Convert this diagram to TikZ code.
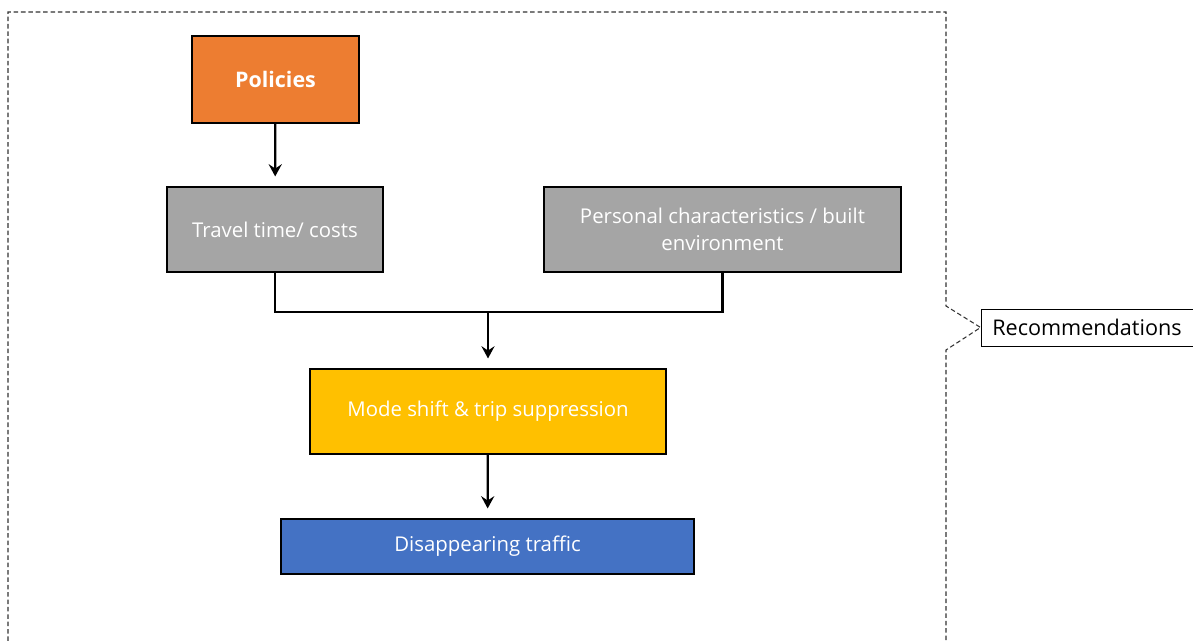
\documentclass[tikz,border=0pt]{standalone}
\usepackage{fontspec}
\setmainfont{Open Sans}
\usetikzlibrary{arrows.meta}
\definecolor{policyorange}{HTML}{ED7D31}
\definecolor{factorgray}{HTML}{A5A5A5}
\definecolor{shiftyellow}{HTML}{FFC000}
\definecolor{trafficblue}{HTML}{4472C4}
\begin{document}
\begin{tikzpicture}[x=0.02cm, y=-0.02cm,
    box/.style={draw=black, line width=1pt, text=white, align=center,
      font=\fontsize{11.6}{15.3}\selectfont},
    flow/.style={-{Stealth[length=7pt, width=7.5pt, inset=2.5pt]}, line width=1.3pt, shorten >=5.5pt}]
  \useasboundingbox (0,0) rectangle (1193,641);

  % Dashed frame with pointer to the label
  \node[draw=black, line width=0.5pt, minimum width=4.24cm, minimum height=0.74cm,
    font=\fontsize{12.3}{14}\selectfont] (recommendations) at (1087,327.5) {Recommendations};
  \draw[black!80, line width=0.6pt, dash pattern=on 2.6pt off 1.6pt]
    (8,641) -- (8,12) -- (946,12) -- (946,306) -- (recommendations.west)
    -- (946,350) -- (946,641);

  % Boxes
  \node[box, fill=policyorange, minimum width=3.34cm, minimum height=1.74cm,
    font=\fontsize{12.2}{15}\selectfont\bfseries] (policies) at (275.5,79.5) {Policies};
  \node[box, fill=factorgray, minimum width=4.32cm, minimum height=1.70cm] (travel) at (275,229.5) {Travel time/ costs};
  \node[box, fill=factorgray, minimum width=7.14cm, minimum height=1.70cm] (personal) at (722.5,229.5) {Personal characteristics / built\\environment};
  \node[box, fill=shiftyellow, minimum width=7.12cm, minimum height=1.70cm] (modeshift) at (488,411.5) {Mode shift \& trip suppression};
  \node[box, fill=trafficblue, minimum width=8.26cm, minimum height=1.10cm] (traffic) at (487.5,546.5) {Disappearing traffic};

  % Connectors
  \coordinate (join) at (488,312);
  \draw[flow] (policies) -- (travel);
  \draw[line width=1.3pt] (travel.south) |- (join) -| (personal.south);
  \draw[flow] (join) -- (modeshift);
  \draw[flow] (modeshift) -- (traffic);
\end{tikzpicture}
\end{document}
